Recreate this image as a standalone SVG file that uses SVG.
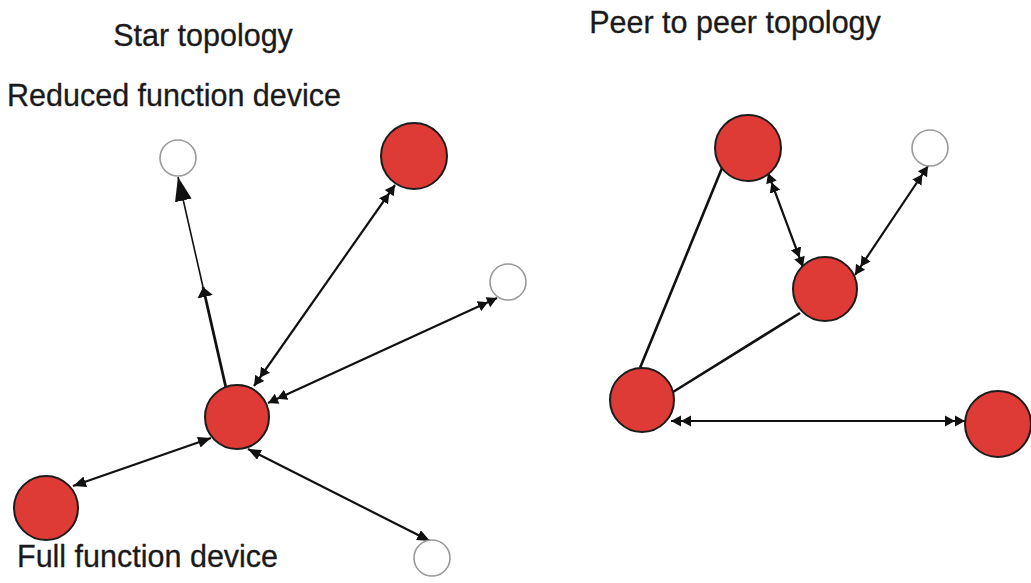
<svg xmlns="http://www.w3.org/2000/svg" width="1031" height="583" viewBox="0 0 1031 583">
  <style>
    .lbl { font-family: "Liberation Sans", Arial, sans-serif; font-size: 30.5px; fill: #1a1a1a; stroke: #1a1a1a; stroke-width: 0.3; }
    .ffd { fill: #df3b36; stroke: #1c1c1c; stroke-width: 2; }
    .rfd { fill: #ffffff; stroke: #9a9a9a; stroke-width: 1.6; }
    .link { fill: none; stroke: #111; stroke-width: 2.2; }
    .plain { fill: none; stroke: #111; stroke-width: 2.6; }
  </style>
  <defs>
    <marker id="dbl" markerUnits="userSpaceOnUse" markerWidth="20" markerHeight="12" refX="20" refY="6" orient="auto-start-reverse" viewBox="0 0 20 12">
      <path d="M0,0.5 L10,6 L0,11.5 Z M10,0.5 L20,6 L10,11.5 Z" fill="#111"/>
    </marker>
    <marker id="one" markerUnits="userSpaceOnUse" markerWidth="13" markerHeight="11" refX="13" refY="5.5" orient="auto-start-reverse" viewBox="0 0 13 11">
      <path d="M0,0 L13,5.5 L0,11 Z" fill="#111"/>
    </marker>
    <marker id="big" markerUnits="userSpaceOnUse" markerWidth="24" markerHeight="17" refX="24" refY="8.5" orient="auto" viewBox="0 0 24 17">
      <path d="M0,0 L24,8.5 L0,17 Z" fill="#111"/>
    </marker>
    <marker id="mid" markerUnits="userSpaceOnUse" markerWidth="10" markerHeight="16" refX="10" refY="8" orient="auto" viewBox="0 0 10 16">
      <path d="M0,0 L10,8 L0,16 Z" fill="#111"/>
    </marker>
  </defs>

  <!-- titles and legend labels -->
  <text class="lbl" x="203" y="46" text-anchor="middle">Star topology</text>
  <text class="lbl" x="7" y="106">Reduced function device</text>
  <text class="lbl" x="17" y="567">Full function device</text>
  <text class="lbl" x="735" y="33" text-anchor="middle">Peer to peer topology</text>

  <!-- connectors -->
  <g id="connectors">
    <!-- star: coordinator to its devices -->
    <line class="link" style="stroke-width:2.8" x1="226" y1="388" x2="203" y2="287" marker-end="url(#mid)"/>
    <line class="link" style="stroke-width:1.6" x1="203" y1="287" x2="178" y2="177" marker-end="url(#big)"/>
    <line class="link" x1="254" y1="386" x2="395" y2="185" marker-start="url(#dbl)" marker-end="url(#dbl)"/>
    <line class="link" x1="268" y1="403" x2="497" y2="298" marker-start="url(#dbl)" marker-end="url(#dbl)"/>
    <line class="link" x1="211" y1="438" x2="73" y2="486" marker-start="url(#one)" marker-end="url(#one)"/>
    <line class="link" x1="248" y1="449" x2="430" y2="541" marker-start="url(#one)" marker-end="url(#one)"/>

    <!-- peer to peer -->
    <line class="plain" x1="722" y1="168" x2="640" y2="368"/>
    <line class="plain" x1="673" y1="392" x2="800" y2="313"/>
    <line class="link" x1="768" y1="173" x2="803" y2="267" marker-start="url(#dbl)" marker-end="url(#dbl)"/>
    <line class="link" x1="928" y1="166" x2="855" y2="275" marker-start="url(#dbl)" marker-end="url(#dbl)"/>
    <line class="link" x1="671" y1="421" x2="965" y2="421" marker-start="url(#dbl)" marker-end="url(#dbl)"/>
  </g>

  <!-- star topology nodes -->
  <g id="star-coordinator"><circle class="ffd" cx="237" cy="417" r="32"/></g>
  <g id="star-rfd-top"><circle class="rfd" cx="178" cy="158" r="18"/></g>
  <g id="star-ffd-top"><circle class="ffd" cx="414" cy="156" r="33"/></g>
  <g id="star-rfd-right"><circle class="rfd" cx="508" cy="282" r="18"/></g>
  <g id="star-ffd-left"><circle class="ffd" cx="46" cy="508" r="32"/></g>
  <g id="star-rfd-bottom"><circle class="rfd" cx="432" cy="558" r="18"/></g>

  <!-- peer to peer nodes -->
  <g id="p2p-ffd-top"><circle class="ffd" cx="748" cy="148" r="33"/></g>
  <g id="p2p-rfd"><circle class="rfd" cx="930" cy="148" r="18"/></g>
  <g id="p2p-ffd-mid"><circle class="ffd" cx="825" cy="289" r="32"/></g>
  <g id="p2p-ffd-left"><circle class="ffd" cx="642" cy="400" r="32"/></g>
  <g id="p2p-ffd-right"><circle class="ffd" cx="998" cy="424" r="33"/></g>
</svg>
